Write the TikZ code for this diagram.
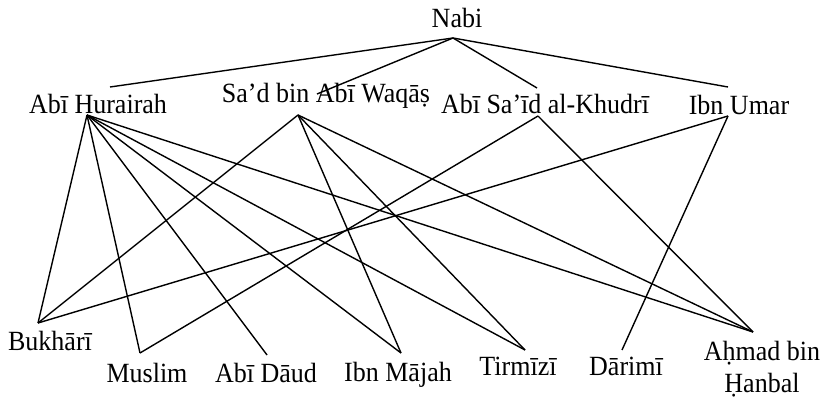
\documentclass[tikz,border=0pt]{standalone}
\usepackage{fontspec}
\usepackage{graphicx}
\setmainfont{Liberation Serif}
\newcommand\tallt[1]{\scalebox{1}[1.07]{#1}}
\begin{document}
\begin{tikzpicture}[x=1pt,y=-1pt,
  lbl/.style={inner sep=0pt,anchor=base,font=\fontsize{26}{32}\selectfont},
  link/.style={line width=1.4pt,black}]
\useasboundingbox (0,0) rectangle (832,398);
% names
\node[lbl] (nabi) at (457,28) {\tallt{Nabi}};
\node[lbl] (hur) at (98,114) {\tallt{Abī Hurairah}};
\node[lbl] (sad) at (326,103) {\tallt{Sa’d bin Abī Waqāṣ}};
\node[lbl] (khu) at (545,114) {\tallt{Abī Sa’īd al-Khudrī}};
\node[lbl] (umar) at (739,115) {\tallt{Ibn Umar}};
\node[lbl] (buk) at (50,350) {\tallt{Bukhārī}};
\node[lbl] (mus) at (147,382) {\tallt{Muslim}};
\node[lbl] (dau) at (266,382) {\tallt{Abī Dāud}};
\node[lbl] (maj) at (398,381) {\tallt{Ibn Mājah}};
\node[lbl] (tir) at (518,375) {\tallt{Tirmīzī}};
\node[lbl] (dar) at (626,375) {\tallt{Dārimī}};
\node[lbl,anchor=north,align=center] (ahm) at (762,341) {\tallt{Aḥmad bin}\\\tallt{Ḥanbal}};
% attachment points
\coordinate (nabiB) at (453,38);
\coordinate (hurT) at (110,87);
\coordinate (hurB) at (87,115);
\coordinate (sadT) at (317,94);
\coordinate (sadB) at (298,115);
\coordinate (khuT) at (537,88);
\coordinate (khuB) at (538,116);
\coordinate (umarT) at (728,87);
\coordinate (umarB) at (728,116);
\coordinate (bukT) at (38,323);
\coordinate (musT) at (140,353);
\coordinate (dauT) at (267,355);
\coordinate (majT) at (401,353);
\coordinate (tirT) at (525,350);
\coordinate (darT) at (622,350);
\coordinate (ahmT) at (753,332);
% connectors
\foreach \t in {hurT,sadT,khuT,umarT} \draw[link] (nabiB) -- (\t);
\foreach \t in {bukT,musT,dauT,majT,tirT,ahmT} \draw[link] (hurB) -- (\t);
\foreach \t in {bukT,majT,tirT,ahmT} \draw[link] (sadB) -- (\t);
\foreach \t in {musT,ahmT} \draw[link] (khuB) -- (\t);
\foreach \t in {bukT,darT} \draw[link] (umarB) -- (\t);
\end{tikzpicture}
\end{document}
